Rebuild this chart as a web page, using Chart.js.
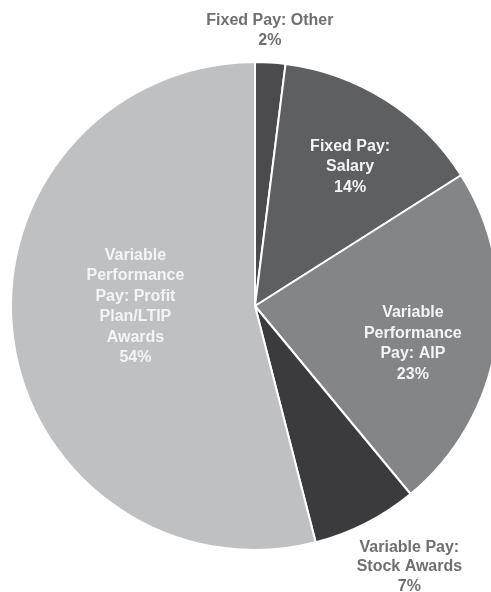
<!DOCTYPE html>
<html lang="en">
<head>
    <meta charset="UTF-8">
    <title>Pay mix</title>
    <script src="https://cdn.jsdelivr.net/npm/chart.js"></script>
    <style>
        html, body {
            margin: 0;
            padding: 0;
            background: #fff;
            overflow: hidden;
        }
        .wrap {
            width: 491px;
            height: 592px;
            overflow: hidden;
            position: relative;
        }
        canvas {
            display: block;
        }
    </style>
</head>
<body>
    <div class="wrap">
        <canvas id="pie" width="510" height="592"></canvas>
    </div>

    <script>
        // slices, clockwise from 12 o'clock
        const categories = [
            ['Fixed Pay: Other'],
            ['Fixed Pay:', 'Salary'],
            ['Variable', 'Performance', 'Pay: AIP'],
            ['Variable Pay:', 'Stock Awards'],
            ['Variable', 'Performance', 'Pay: Profit', 'Plan/LTIP', 'Awards']
        ];
        const shares = [2, 14, 23, 7, 54];
        const sliceColors = ['#4b4b4d', '#5e5f61', '#848587', '#3b3b3d', '#bfc0c2'];

        // where each label sits: fraction of radius, angle nudge (deg), inside or not
        const labelSpots = [
            { r: 1.13, nudge: -0.5, inside: false },
            { r: 0.69, nudge: 2, inside: true },
            { r: 0.665, nudge: 4.4, inside: true },
            { r: 1.243, nudge: -3.6, inside: false },
            { r: 0.49, nudge: 7, inside: true }
        ];

        const sliceLabels = {
            id: 'sliceLabels',
            afterDatasetsDraw(chart) {
                const ctx = chart.ctx;
                const arcs = chart.getDatasetMeta(0).data;
                ctx.save();
                ctx.font = 'bold 16px "Liberation Sans", Arial, sans-serif';
                ctx.textAlign = 'center';
                ctx.textBaseline = 'middle';
                arcs.forEach((arc, i) => {
                    const p = arc.getProps(['x', 'y', 'startAngle', 'endAngle', 'outerRadius'], true);
                    const spot = labelSpots[i];
                    const mid = (p.startAngle + p.endAngle) / 2 + spot.nudge * Math.PI / 180;
                    const cx = p.x + Math.cos(mid) * p.outerRadius * spot.r;
                    const cy = p.y + Math.sin(mid) * p.outerRadius * spot.r;
                    const lines = categories[i].concat([shares[i] + '%']);
                    const lh = spot.inside ? 20.5 : 19.5;
                    ctx.fillStyle = spot.inside ? '#f4f4f4' : '#6e6f71';
                    lines.forEach((t, k) => {
                        ctx.fillText(t, cx, cy + (k - (lines.length - 1) / 2) * lh);
                    });
                });
                ctx.restore();
            }
        };

        new Chart(document.getElementById('pie'), {
            type: 'pie',
            data: {
                labels: categories.map(c => c.join(' ')),
                datasets: [{
                    data: shares,
                    backgroundColor: sliceColors,
                    borderColor: '#ffffff',
                    borderWidth: 2
                }]
            },
            options: {
                responsive: false,
                animation: false,
                layout: {
                    padding: { top: 61, bottom: 41, left: 10, right: 10 }
                },
                plugins: {
                    legend: { display: false },
                    tooltip: { enabled: false }
                }
            },
            plugins: [sliceLabels]
        });
    </script>
</body>
</html>
